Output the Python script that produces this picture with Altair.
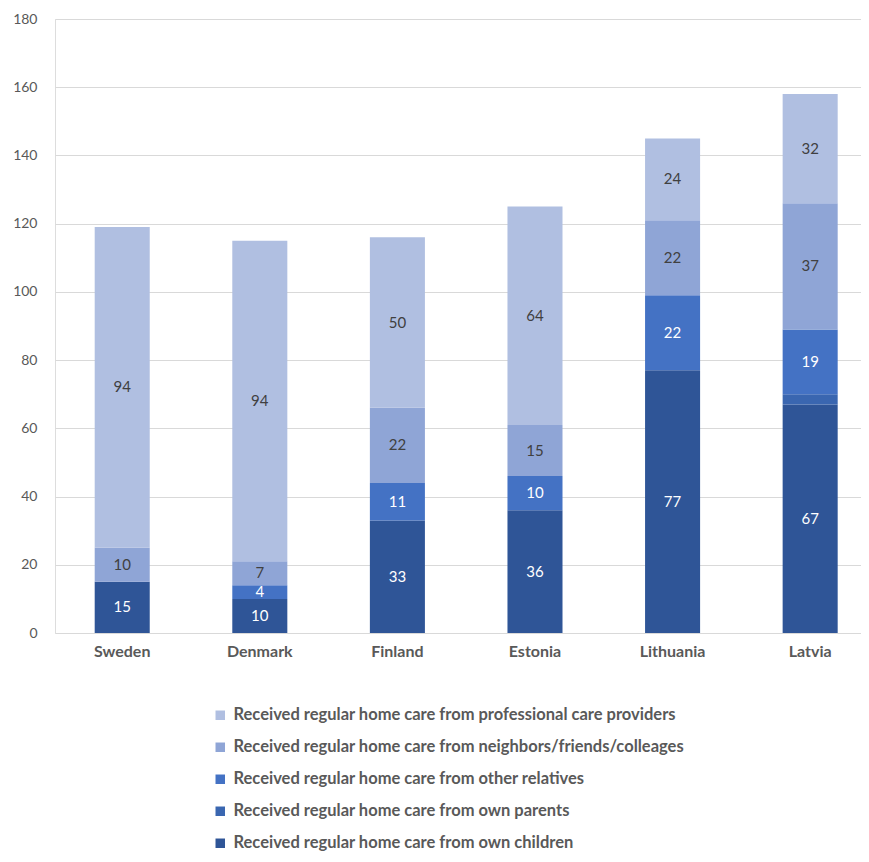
import altair as alt
import pandas as pd

countries = ["Sweden", "Denmark", "Finland", "Estonia", "Lithuania", "Latvia"]
series = [
    "Received regular home care from own children",
    "Received regular home care from own parents",
    "Received regular home care from other relatives",
    "Received regular home care from neighbors/friends/colleages",
    "Received regular home care from professional care providers",
]
own_children = [15, 10, 33, 36, 77, 67]
own_parents = [0, 0, 0, 0, 0, 3]
other_relatives = [0, 4, 11, 10, 22, 19]
neighbors = [10, 7, 22, 15, 22, 37]
professional = [94, 94, 50, 64, 24, 32]
colors = ["#2F5597", "#3A66B0", "#4472C4", "#8FA5D6", "#B0BFE1"]
text_colors = ["white", "white", "white", "#404040", "#404040"]

rows = []
for si, (name, vals) in enumerate(zip(series, [own_children, own_parents, other_relatives, neighbors, professional])):
    for ci, c in enumerate(countries):
        if vals[ci] > 0:
            rows.append({"country": c, "series": name, "value": vals[ci], "order": si,
                         "label": str(vals[ci]) if vals[ci] > 3 else "", "tcolor": text_colors[si]})
df = pd.DataFrame(rows)

base = alt.Chart(df).transform_stack(
    stack="value", groupby=["country"], sort=[alt.SortField("order", "ascending")], as_=["y0", "y1"]
).transform_calculate(mid="(datum.y0 + datum.y1) / 2")

xscale = alt.Scale(paddingInner=0.6, paddingOuter=0.229, align=0.63)

x = alt.X("country:N", sort=countries, title=None, scale=xscale,
          axis=alt.Axis(labelAngle=0, labelFontSize=16, labelFontWeight="bold", labelColor="#595959",
                        labelFont="Lato", domain=False, ticks=False, labelPadding=10))

bars = base.mark_bar().encode(
    x=x,
    y=alt.Y("y0:Q", title=None, scale=alt.Scale(domain=[0, 180]),
            axis=alt.Axis(values=list(range(0, 181, 20)), labelFontSize=14, labelColor="#595959",
                          labelFont="Lato", domain=False, ticks=False, labelPadding=18,
                          gridColor="#D9D9D9", gridWidth=1)),
    y2="y1:Q",
    color=alt.Color("series:N",
                    scale=alt.Scale(domain=list(reversed(series)), range=list(reversed(colors))),
                    legend=alt.Legend(title=None, orient="none", legendX=157, legendY=688,
                                      direction="vertical", symbolType="square", symbolSize=90,
                                      symbolStrokeWidth=0, labelFontSize=16.5, labelFont="Lato",
                                      labelFontWeight="bold", labelColor="#595959", rowPadding=15,
                                      labelLimit=700, labelOffset=5)),
)

labels = base.mark_text(fontSize=15, font="Lato").encode(
    x=alt.X("country:N", sort=countries, scale=xscale),
    y=alt.Y("mid:Q"),
    text="label:N",
    color=alt.Color("tcolor:N", scale=None),
)

chart = alt.layer(bars, labels).properties(
    width=806, height=614,
    autosize=alt.AutoSizeParams(type="none"),
    padding={"left": 47, "top": 11, "right": 0, "bottom": 221},
).configure_view(stroke=None).configure(background="white")

chart.save("out.html", embed_options={"renderer": "svg", "actions": False})
